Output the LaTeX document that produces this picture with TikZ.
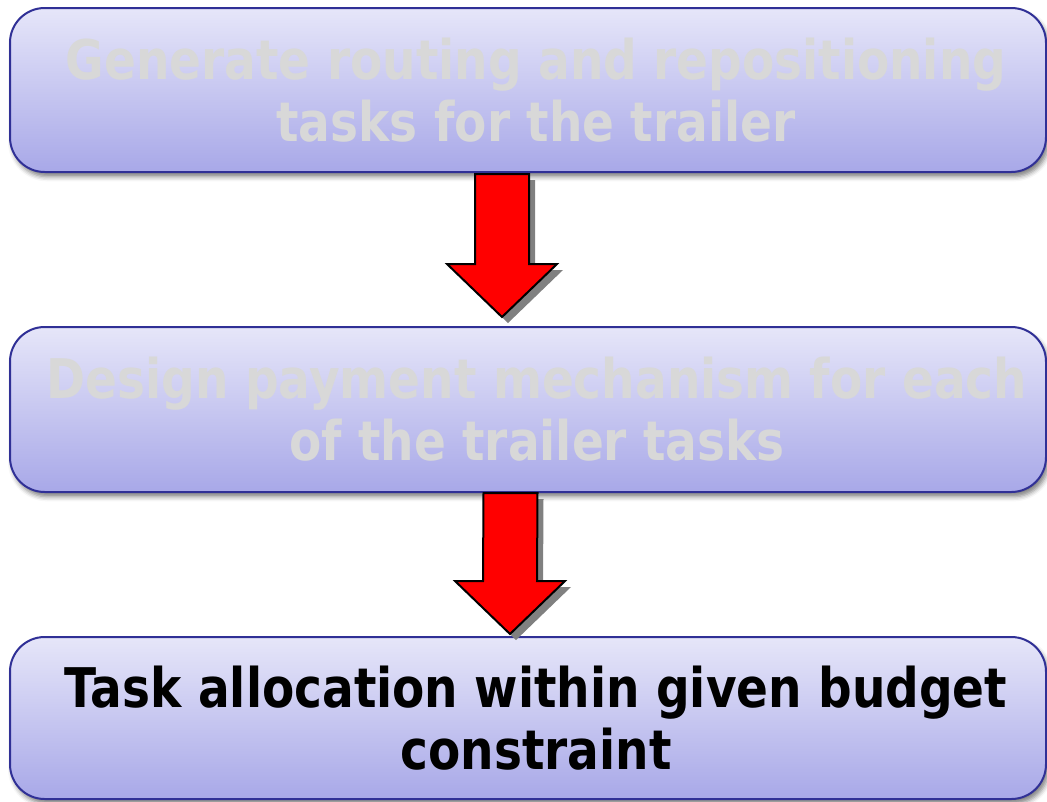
\documentclass[tikz,border=0pt]{standalone}
\usepackage{fontspec}
\usetikzlibrary{calc,shadows.blur}
\newfontfamily\boxfont[FakeStretch=0.86]{DejaVu Sans}
\definecolor{boxtop}{RGB}{230,230,249}
\definecolor{boxbottom}{RGB}{168,168,232}
\definecolor{boxedge}{RGB}{48,48,150}
\definecolor{fadedtext}{RGB}{216,216,216}
\definecolor{arrowshade}{RGB}{128,128,128}
\tikzset{
  stagebox/.style={rounded corners=26pt, draw=boxedge, line width=1.5pt,
    top color=boxtop, bottom color=boxbottom,
    minimum width=777pt, inner sep=0pt,
    blur shadow={shadow xshift=2pt, shadow yshift=-3.5pt, shadow blur radius=3.5pt, shadow opacity=50}},
  stagetext/.style={inner sep=0pt, align=center,
    font=\boxfont\bfseries\fontsize{41pt}{46.5pt}\selectfont},
  faded/.style={text=fadedtext},
  arrowbody/.style={fill=red, draw=black, line width=1.5pt, line join=miter},
  arrowshadow/.style={fill=arrowshade},
}
% block arrow from top-centre #1 to tip #2, offset by (#3,#4)
\newcommand\blockarrowpath[4]{%
  ($(#1)+(-27+#3,#4)$) -- ($(#1)+(27+#3,#4)$) -- ($(#2)+(27+#3,-53+#4)$) --
  ($(#2)+(55+#3,-53+#4)$) -- ($(#2)+(#3,#4)$) -- ($(#2)+(-55+#3,-53+#4)$) --
  ($(#2)+(-27+#3,-53+#4)$) -- cycle}
\begin{document}
\begin{tikzpicture}[x=0.75pt, y=-0.75pt]
\useasboundingbox (0,0) rectangle (1047,801);

% the three stages
\node[stagebox, minimum height=123pt] (b1) at (528,90) {};
\node[stagebox, minimum height=123.75pt] (b2) at (528,409.5) {};
\node[stagebox, minimum height=121.5pt] (b3) at (528,718) {};

\node[stagetext, faded] (t1) at ($(b1.center)+(8,0)$)
  {Generate routing and repositioning\\tasks for the trailer};
\node[stagetext, faded] (t2) at ($(b2.center)+(9,0)$)
  {Design payment mechanism for each\\of the trailer tasks};
\node[stagetext] (t3) at ($(b3.center)+(8,0)$)
  {Task allocation within given budget\\constraint};

% arrow anchor points
\path (b1.south) ++(-26,1) coordinate (a1s);
\path (b2.north) ++(-26,-9) coordinate (a1t);
\path (b2.south) ++(-17.5,0) coordinate (a2s);
\path (b3.north) ++(-18,-2) coordinate (a2t);

\fill[arrowshadow] \blockarrowpath{a1s}{a1t}{6}{6};
\draw[arrowbody] \blockarrowpath{a1s}{a1t}{0}{0};
\fill[arrowshadow] \blockarrowpath{a2s}{a2t}{6}{6};
\draw[arrowbody] \blockarrowpath{a2s}{a2t}{0}{0};
\end{tikzpicture}
\end{document}
